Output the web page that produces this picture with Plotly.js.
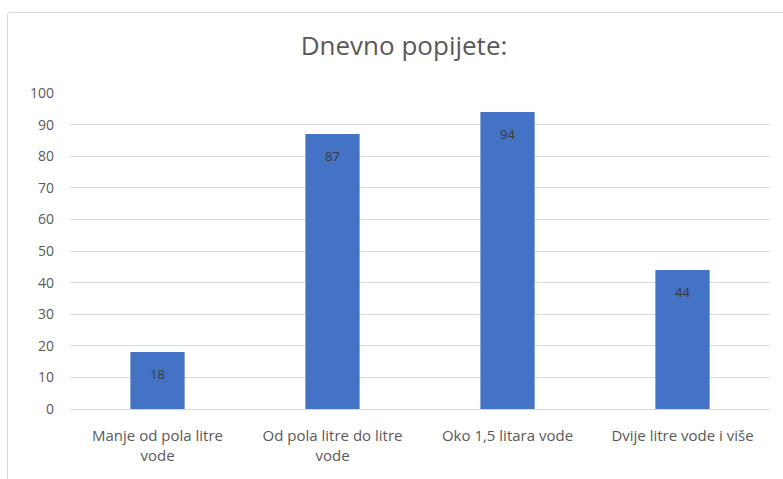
<!DOCTYPE html>
<html>
<head>
<meta charset="utf-8">
<script src="https://cdn.plot.ly/plotly-3.0.1.min.js"></script>
<style>
html,body{margin:0;padding:0;background:#fff;}
#wrap{position:relative;width:783px;height:479px;}
#chart{width:783px;height:479px;}
#frame{position:absolute;left:7px;top:12px;width:790px;height:480px;border:1px solid #d9d9d9;border-radius:3px;pointer-events:none;}
</style>
</head>
<body>
<div id="wrap"><div id="chart"></div><div id="frame"></div></div>
<script>
const categories = ["Manje od pola litre<br>vode", "Od pola litre do litre<br>vode", "Oko 1,5 litara vode", "Dvije litre vode i više"];
const values = [18, 87, 94, 44];
const yTicks = [0, 10, 20, 30, 40, 50, 60, 70, 80, 90, 100];

const trace = {
  type: 'bar',
  x: categories,
  y: values,
  marker: {color: '#4472C4'},
  hoverinfo: 'none'
};

const labels = categories.map((c, i) => ({
  x: c, y: values[i], xref: 'x', yref: 'y',
  text: String(values[i]), showarrow: false,
  yanchor: 'middle', yshift: -22,
  font: {family: 'Open Sans, sans-serif', size: 13, color: '#3a3a3a'}
}));

const layout = {
  width: 783, height: 479,
  margin: {l: 70, r: 13, t: 93, b: 70},
  paper_bgcolor: '#ffffff',
  plot_bgcolor: '#ffffff',
  title: {text: 'Dnevno popijete:', x: 0.516, xanchor: 'center', y: 0.905, yanchor: 'middle',
          font: {family: 'Open Sans, sans-serif', size: 26, color: '#595959'}},
  bargap: 0.69,
  showlegend: false,
  annotations: labels,
  xaxis: {type: 'category', showgrid: false, zeroline: false, showline: false, ticks: '',
          ticklabelstandoff: 16,
          tickfont: {family: 'Open Sans, sans-serif', size: 15, color: '#595959'}, automargin: false},
  yaxis: {range: [0, 100], tickvals: yTicks, ticktext: yTicks.map(String), showgrid: true,
          gridcolor: '#d9d9d9', gridwidth: 1, zeroline: true, zerolinecolor: '#d9d9d9', showline: false,
          ticks: '', ticklabelstandoff: 15,
          tickfont: {family: 'Open Sans, sans-serif', size: 14, color: '#595959'}, automargin: false}
};

Plotly.newPlot('chart', [trace], layout, {displayModeBar: false, staticPlot: true});
</script>
</body>
</html>
